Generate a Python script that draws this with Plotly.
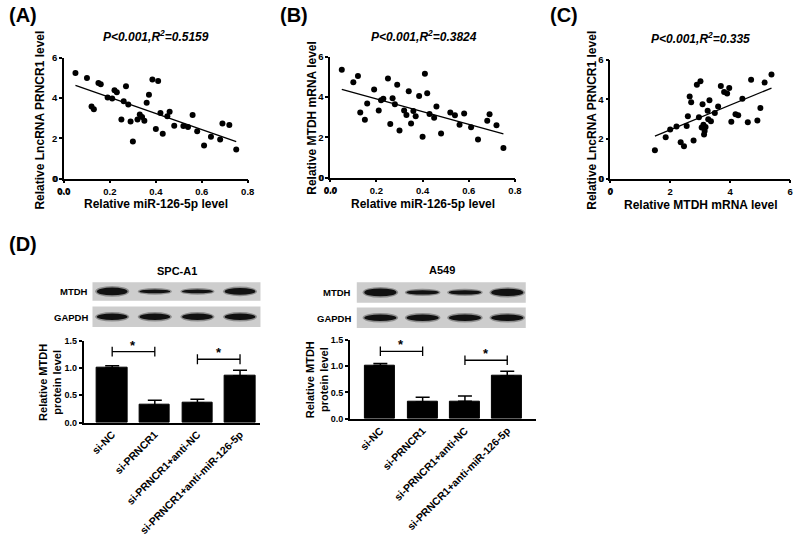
import numpy as np
import plotly.graph_objects as go

W, H = 800, 536
FONT = "Liberation Sans, Arial, sans-serif"

# ---------------- data ----------------
# Panel A: miR-126-5p vs LncRNA PRNCR1
a_mir = [0.05, 0.10, 0.15, 0.16, 0.12, 0.13, 0.19, 0.21, 0.22, 0.23,
         0.26, 0.27, 0.28, 0.25, 0.29, 0.30, 0.32, 0.33, 0.34, 0.35,
         0.36, 0.37, 0.385, 0.41, 0.40, 0.42, 0.43, 0.45, 0.46, 0.48,
         0.52, 0.54, 0.56, 0.58, 0.61, 0.64, 0.68, 0.69, 0.72, 0.75]
a_prncr1 = [5.24, 5.00, 4.74, 4.68, 3.58, 3.45, 4.03, 3.98, 4.39, 4.29,
            3.84, 4.58, 3.68, 2.94, 2.84, 1.84, 2.94, 3.18, 3.06, 2.87,
            3.77, 4.16, 4.92, 4.85, 2.47, 3.26, 2.23, 3.10, 3.32, 2.63,
            2.61, 2.56, 3.16, 2.35, 1.65, 2.08, 1.95, 2.74, 2.66, 1.45]
a_fit = (-3.99, 4.83)          # slope, intercept of the drawn regression line
a_stat = "P&lt;0.001,R<sup>2</sup>=0.5159"

# Panel B: miR-126-5p vs MTDH mRNA
b_mir = [0.05, 0.10, 0.12, 0.13, 0.15, 0.16, 0.19, 0.21, 0.22, 0.23,
         0.25, 0.26, 0.27, 0.28, 0.29, 0.30, 0.32, 0.33, 0.34, 0.35,
         0.36, 0.37, 0.385, 0.40, 0.41, 0.42, 0.43, 0.45, 0.46, 0.48,
         0.52, 0.54, 0.56, 0.58, 0.61, 0.64, 0.68, 0.69, 0.72, 0.75]
b_mtdh = [5.35, 4.73, 5.05, 3.24, 2.87, 3.68, 4.37, 3.34, 3.84, 3.92,
          4.92, 2.66, 3.94, 3.65, 4.61, 2.34, 3.34, 3.11, 4.29, 2.69,
          3.31, 3.05, 4.05, 2.03, 5.16, 4.19, 3.16, 2.98, 3.53, 2.19,
          3.23, 3.10, 2.63, 3.19, 2.50, 1.90, 2.82, 3.15, 2.60, 1.48]
b_fit = (-3.15, 4.54)
b_stat = "P&lt;0.001,R<sup>2</sup>=0.3824"

# Panel C: MTDH mRNA vs LncRNA PRNCR1
c_mtdh = [1.49, 1.85, 2.00, 2.21, 2.35, 2.46, 2.55, 2.59, 2.65, 2.70,
          2.78, 2.89, 2.96, 3.01, 3.05, 3.08, 3.11, 3.13, 3.15, 3.18,
          3.25, 3.27, 3.31, 3.36, 3.49, 3.60, 3.69, 3.80, 3.90, 3.97,
          4.04, 4.18, 4.27, 4.41, 4.59, 4.70, 4.91, 5.01, 5.15, 5.38]
c_prncr1 = [1.44, 2.09, 2.48, 2.63, 1.84, 1.63, 2.66, 3.15, 4.14, 3.85,
            1.92, 4.73, 3.10, 4.91, 2.58, 3.75, 2.72, 2.23, 2.40, 2.61,
            3.43, 3.00, 3.96, 2.89, 3.31, 3.64, 4.67, 4.37, 4.29, 4.57,
            2.87, 3.25, 3.20, 4.03, 2.84, 4.99, 2.94, 3.57, 4.85, 5.25]
c_fit = (0.622, 1.223)
c_stat = "P&lt;0.001,R<sup>2</sup>=0.335"

# Panel D: western blot quantification
groups = ["si-NC", "si-PRNCR1", "si-PRNCR1+anti-NC", "si-PRNCR1+anti-miR-126-5p"]
spc_mean = [1.00, 0.32, 0.36, 0.86]
spc_err = [0.04, 0.09, 0.07, 0.10]
a549_mean = [1.01, 0.32, 0.33, 0.81]
a549_err = [0.04, 0.09, 0.10, 0.09]
sig_pairs = [(0, 1), (2, 3)]
spc_sig_y = [1.30, 1.16]
a549_sig_y = [1.28, 1.11]
# relative band intensities (blot images)
spc_mtdh_band = [1.0, 0.5, 0.5, 0.85]
spc_gapdh_band = [0.85, 0.85, 0.85, 0.85]
a549_mtdh_band = [1.0, 0.55, 0.55, 0.95]
a549_gapdh_band = [0.85, 0.85, 0.85, 0.85]


# ---------------- helpers ----------------
def px(x):
    return x / W


def py(y):
    return 1 - y / H


fig = go.Figure()
TICKFONT = dict(family=FONT, size=9.5, color="black", weight="bold")


def axis_style(**kw):
    d = dict(showline=True, linecolor="black", linewidth=1.5, ticks="outside",
             ticklen=3, tickwidth=1.5, tickcolor="black", showgrid=False,
             zeroline=False, tickfont=TICKFONT)
    d.update(kw)
    return d


def fmt(v):
    return f"{v:.1f}" if isinstance(v, float) else str(v)


def scatter_panel(n, xs, ys, fit, xdom, ydom, xr, xt, yr, yt):
    xa = "x" if n == 1 else f"x{n}"
    ya = "y" if n == 1 else f"y{n}"
    fig.add_trace(go.Scatter(x=xs, y=ys, mode="markers", xaxis=xa, yaxis=ya,
                             marker=dict(color="black", size=6), cliponaxis=False))
    k, b = fit
    lx = np.array([min(xs), max(xs)])
    fig.add_trace(go.Scatter(x=lx, y=k * lx + b, mode="lines", xaxis=xa, yaxis=ya,
                             line=dict(color="black", width=1.3)))
    key = "" if n == 1 else str(n)
    fig.layout["xaxis" + key] = axis_style(domain=[px(xdom[0]), px(xdom[1])],
                                           range=xr, tickvals=xt,
                                           ticktext=[fmt(v) for v in xt], anchor=ya)
    fig.layout["yaxis" + key] = axis_style(domain=[py(ydom[1]), py(ydom[0])],
                                           range=yr, tickvals=yt, anchor=xa)
    # corner (origin) tick labels, which plotly suppresses at the axis crossing
    fig.add_annotation(x=xt[0], xref=xa, y=py(ydom[1]), yref="paper", text=fmt(xt[0]),
                       showarrow=False, yanchor="middle", yshift=-12, font=TICKFONT)
    fig.add_annotation(x=px(xdom[0]), xref="paper", y=yt[0], yref=ya, text=fmt(yt[0]),
                       showarrow=False, xanchor="right", xshift=-4, font=TICKFONT)


scatter_panel(1, a_mir, a_prncr1, a_fit, (58, 245), (53, 177), [0, 0.8],
              [0.0, 0.2, 0.4, 0.6, 0.8], [0, 6], [0, 2, 4, 6])
scatter_panel(2, b_mir, b_mtdh, b_fit, (329, 517), (52, 176), [0, 0.8],
              [0.0, 0.2, 0.4, 0.6, 0.8], [0, 6], [0, 2, 4, 6])
scatter_panel(3, c_mtdh, c_prncr1, c_fit, (614, 797), (55, 177), [0, 6],
              [0, 2, 4, 6], [0, 6], [0, 2, 4, 6])


def bar_panel(n, means, errs, sig_y, xdom, ydom, xr):
    xa, ya = f"x{n}", f"y{n}"
    xs = list(range(len(groups)))
    fig.add_trace(go.Bar(x=xs, y=means, xaxis=xa, yaxis=ya, width=0.71,
                         marker=dict(color="black", line=dict(color="black", width=1)),
                         error_y=dict(type="data", array=errs, arrayminus=[0] * len(errs),
                                      symmetric=False, color="black", thickness=1.5, width=7)))
    d = 0.09
    for (i, j), yv in zip(sig_pairs, sig_y):
        fig.add_trace(go.Scatter(x=[i, i, None, i, j, None, j, j],
                                 y=[yv - d, yv + d, None, yv, yv, None, yv - d, yv + d],
                                 mode="lines", xaxis=xa, yaxis=ya, cliponaxis=False,
                                 line=dict(color="black", width=1.3)))
        fig.add_annotation(x=(i + j) / 2, y=yv, xref=xa, yref=ya, text="<b>*</b>",
                           showarrow=False, yanchor="bottom", yshift=-3,
                           font=dict(family=FONT, size=13, color="black"))
    fig.layout[f"xaxis{n}"] = axis_style(domain=[px(xdom[0]), px(xdom[1])], range=xr,
                                         tickvals=xs, ticktext=groups, tickangle=-45,
                                         ticks="", anchor=ya,
                                         tickfont=dict(family=FONT, size=10.5, color="black",
                                                       weight="bold"))
    fig.layout[f"yaxis{n}"] = axis_style(domain=[py(ydom[1]), py(ydom[0])],
                                         range=[0, 1.5],
                                         tickvals=[0, 0.5, 1.0, 1.5],
                                         ticktext=["0.0", "0.5", "1.0", "1.5"], anchor=xa,
                                         tickfont=dict(family=FONT, size=9, color="black",
                                                       weight="bold"))


bar_panel(4, spc_mean, spc_err, spc_sig_y, (78, 258), (343, 427), [-0.67, 3.48])
bar_panel(5, a549_mean, a549_err, a549_sig_y, (349, 538), (342, 423), [-0.72, 3.67])


# ---------------- blots ----------------
def blot(xa, x0, x1, ytop, ybot, intens, maxh, hw):
    fig.add_shape(type="rect", xref="paper", yref="paper", x0=px(x0), x1=px(x1),
                  y0=py(ybot), y1=py(ytop), fillcolor="#cdcdcd", line_width=0,
                  layer="above")
    yc = (ytop + ybot) / 2
    for lane, v in enumerate(intens):
        h = maxh * v
        fig.add_shape(type="circle", xref=xa, yref="paper", x0=lane - hw, x1=lane + hw,
                      y0=py(yc + h / 2 + 1.5), y1=py(yc - h / 2 - 1.5),
                      fillcolor="#5a5a5a", opacity=0.55, line_width=0, layer="above")
        fig.add_shape(type="circle", xref=xa, yref="paper", x0=lane - hw + 0.04,
                      x1=lane + hw - 0.04, y0=py(yc + h / 2), y1=py(yc - h / 2),
                      fillcolor="#111111", line_width=0, layer="above")


blot("x4", 87, 258, 283, 302, spc_mtdh_band, 8, 0.40)
blot("x4", 87, 258, 308, 329, spc_gapdh_band, 8, 0.40)
blot("x5", 356, 528, 283, 304, a549_mtdh_band, 8, 0.42)
blot("x5", 356, 528, 309, 330, a549_gapdh_band, 8, 0.42)


# ---------------- texts ----------------
def text(x, y, s, size, angle=0, xanchor="center", yanchor="middle", italic=False):
    fig.add_annotation(x=px(x), y=py(y), xref="paper", yref="paper", text=s,
                       showarrow=False, textangle=angle, xanchor=xanchor, yanchor=yanchor,
                       font=dict(family=FONT, size=size, color="black", weight="bold",
                                 style="italic" if italic else "normal"))


# panel letters
text(0, 9, "(A)", 20, xanchor="left")
text(276, 9, "(B)", 20, xanchor="left")
text(551, 9, "(C)", 20, xanchor="left")
text(0, 244, "(D)", 20, xanchor="left")

# stats
text(152, 31, a_stat, 12, italic=True)
text(424, 31, b_stat, 12, italic=True)
text(706, 33, c_stat, 12, italic=True)

# axis titles
text(152, 203, "Relative miR-126-5p level", 12)
text(423, 203, "Relative miR-126-5p level", 12)
text(706, 204, "Relative MTDH mRNA level", 12)
text(34, 117, "Relative LncRNA PRNCR1 level", 12, angle=-90)
text(311, 115, "Relative MTDH mRNA level", 12, angle=-90)
text(596, 117, "Relative LncRNA PRNCR1 level", 12, angle=-90)

text(43, 386, "Relative MTDH<br>protein level", 11, angle=-90)
text(315, 383, "Relative MTDH<br>protein level", 11, angle=-90)

# blot titles / labels
text(173, 272, "SPC-A1", 11)
text(443, 271, "A549", 11)
text(84, 293, "MTDH", 9.5, xanchor="right")
text(84, 319, "GAPDH", 9.5, xanchor="right")
text(352, 294, "MTDH", 9.5, xanchor="right")
text(352, 320, "GAPDH", 9.5, xanchor="right")

fig.update_layout(width=W, height=H, margin=dict(l=0, r=0, t=0, b=0),
                  paper_bgcolor="white", plot_bgcolor="white", showlegend=False,
                  bargap=0)

fig.write_html("out.html", config={"displayModeBar": False},
               post_script="document.body.style.margin='0';document.body.style.overflow='hidden';")
